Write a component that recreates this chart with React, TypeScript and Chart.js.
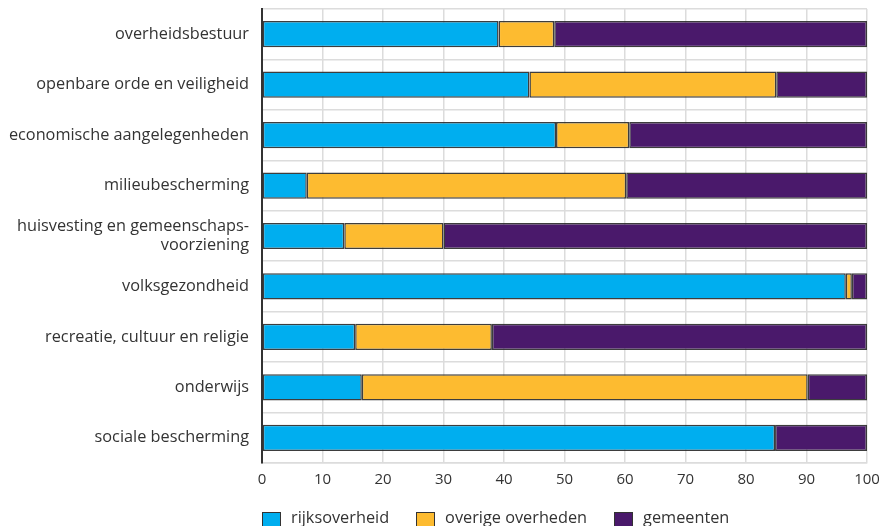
import React, { useEffect, useRef } from 'react';
import { Chart, registerables } from 'chart.js';

Chart.register(...registerables);

const categories: (string | string[])[] = [
  'overheidsbestuur',
  'openbare orde en veiligheid',
  'economische aangelegenheden',
  'milieubescherming',
  ['huisvesting en gemeenschaps-', 'voorziening'],
  'volksgezondheid',
  'recreatie, cultuur en religie',
  'onderwijs',
  'sociale bescherming',
];

const rijksoverheid = [39.1, 44.2, 48.6, 7.4, 13.6, 96.5, 15.4, 16.5, 84.8];
const overigeOverheden = [9.2, 40.8, 12.1, 52.8, 16.4, 1.0, 22.6, 73.7, 0];
const gemeenten = [51.7, 15.0, 39.3, 39.8, 70.0, 2.5, 62.0, 9.8, 15.2];

const xTicks = [0, 10, 20, 30, 40, 50, 60, 70, 80, 90, 100];

const seriesNames = ['rijksoverheid', 'overige overheden', 'gemeenten'];
const seriesColors = ['#00AEEF', '#FDBB30', '#4A196B'];

const FONT = "'Open Sans', sans-serif";
const TEXT = '#333333';
const GRID = '#dcdcdc';

export default function App() {
  const ref = useRef<HTMLCanvasElement | null>(null);

  useEffect(() => {
    document.body.style.margin = '0';
    const canvas = ref.current;
    if (!canvas) return;
    const values = [rijksoverheid, overigeOverheden, gemeenten];
    const chart = new Chart(canvas, {
      type: 'bar',
      data: {
        labels: categories,
        datasets: values.map((v, i) => ({
          label: seriesNames[i],
          data: v,
          backgroundColor: seriesColors[i],
          borderColor: 'rgba(40,40,40,0.9)',
          borderWidth: 1.5,
          borderSkipped: false,
          barPercentage: 0.52,
          categoryPercentage: 1.0,
        })),
      },
      options: {
        indexAxis: 'y',
        animation: false,
        responsive: false,
        maintainAspectRatio: false,
        layout: { padding: { left: 8, right: 12, top: 9, bottom: 37 } },
        plugins: {
          legend: { display: false },
          tooltip: { enabled: false },
        },
        scales: {
          x: {
            stacked: true,
            min: 0,
            max: 100,
            afterBuildTicks: (scale: any) => {
              scale.ticks = xTicks.map((v) => ({ value: v }));
            },
            afterFit: (scale: any) => {
              scale.height = 26;
              scale.paddingLeft = 0;
              scale.paddingRight = 0;
            },
            grid: { color: GRID, lineWidth: 1.5, drawTicks: false },
            border: { color: GRID, width: 1.5 },
            ticks: {
              padding: 8,
              color: TEXT,
              font: { family: FONT, size: 15 },
            },
          },
          y: {
            stacked: true,
            afterFit: (scale: any) => {
              scale.width = 254;
              scale.paddingTop = 0;
              scale.paddingBottom = 0;
            },
            grid: { color: GRID, lineWidth: 1.5, drawTicks: false, offset: true },
            border: { color: '#333333', width: 2 },
            ticks: {
              padding: 13,
              color: TEXT,
              font: { family: FONT, size: 16.3, lineHeight: 1.17 },
            },
          },
        },
      },
    });
    return () => chart.destroy();
  }, []);

  return (
    <div style={{ position: 'relative', width: 879, height: 526, overflow: 'hidden' }}>
      <canvas ref={ref} width={879} height={526} style={{ display: 'block', width: 879, height: 526 }} />
      <div
        style={{
          position: 'absolute',
          left: 262,
          top: 507,
          display: 'flex',
          alignItems: 'flex-start',
          fontFamily: FONT,
          fontSize: 16.3,
          color: TEXT,
          lineHeight: '20px',
          whiteSpace: 'nowrap',
        }}
      >
        {seriesNames.map((n, i) => (
          <div key={n} style={{ display: 'flex', alignItems: 'flex-start', marginRight: 27 }}>
            <span
              style={{
                display: 'inline-block',
                boxSizing: 'border-box',
                width: 19,
                height: 19,
                marginTop: 5,
                background: seriesColors[i],
                border: '1.5px solid #333',
                marginRight: 10,
              }}
            />
            <span>{n}</span>
          </div>
        ))}
      </div>
    </div>
  );
}
